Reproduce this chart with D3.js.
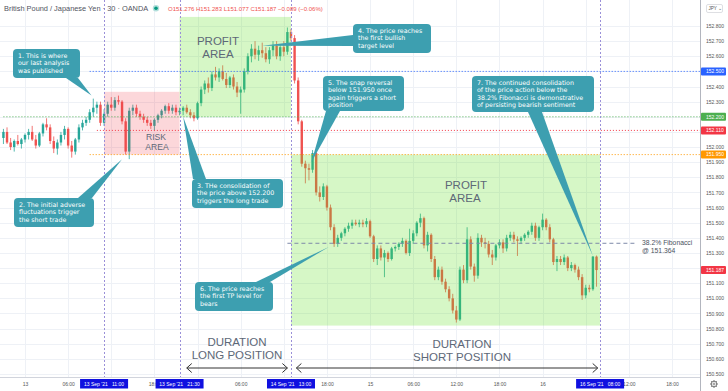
<!DOCTYPE html>
<html><head><meta charset="utf-8">
<script src="https://cdn.jsdelivr.net/npm/d3@7"></script>
<style>body{margin:0;background:#fff}svg{display:block;font-family:"Liberation Sans",Arial,sans-serif}</style>
</head><body><svg id="c" width="728" height="391"></svg>
<script>
// ---------- DATA (30-minute GBP/JPY candles, first bar 12 Sep 2021 21:00 UTC) ----------
const firstBar = Date.UTC(2021, 8, 12, 21, 0);
const barMinutes = 30;
const opens = [
152.06,152.10,152.03,152.00,152.04,152.02,152.05,152.08,152.10,152.05,152.01,152.09,152.15,152.13,152.04,151.99,152.03,152.08,152.12,152.01,151.97,152.05,152.13,152.16,152.18,152.23,152.26,
152.28,152.16,152.22,152.28,152.26,152.31,152.30,152.17,151.97,152.24,152.26,152.22,152.20,152.18,152.16,152.14,152.18,152.21,152.24,152.27,152.24,152.26,152.23,
152.24,152.26,152.23,152.21,152.19,152.29,152.38,152.42,152.39,152.48,152.46,152.50,152.45,152.41,152.46,152.40,152.36,152.38,152.50,152.60,152.65,152.61,152.64,152.62,152.58,152.64,152.67,152.60,152.66,152.63,152.76,
152.72,152.44,152.17,151.89,151.86,151.85,151.96,151.70,151.67,151.74,151.60,151.47,151.36,151.40,151.43,151.46,151.48,151.50,151.49,151.50,151.49,151.51,151.41,151.26,151.33,151.27,151.30,
151.26,151.33,151.34,151.36,151.38,151.30,151.38,151.43,151.50,151.53,151.35,151.42,151.26,151.14,151.19,151.11,151.06,151.00,150.92,150.86,151.19,151.12,151.39,151.21,151.15,151.40,151.37,151.36,151.29,
151.27,151.35,151.37,151.33,151.40,151.42,151.39,151.38,151.40,151.42,151.44,151.48,151.40,151.47,151.52,151.47,151.39,151.24,151.26,151.24,151.27,151.20,151.22,151.19,151.14,151.02,151.07,151.06,151.276];
const highs = [
152.12,152.13,152.06,152.05,152.08,152.06,152.09,152.12,152.14,152.08,152.10,152.16,152.19,152.15,152.07,152.05,152.10,152.14,152.13,152.04,152.06,152.15,152.18,152.20,152.25,152.32,152.30,
152.30,152.25,152.30,152.33,152.33,152.34,152.31,152.19,152.26,152.28,152.28,152.24,152.22,152.20,152.18,152.19,152.22,152.25,152.28,152.29,152.28,152.28,152.26,
152.27,152.28,152.25,152.23,152.30,152.40,152.44,152.46,152.50,152.53,152.52,152.54,152.49,152.47,152.48,152.43,152.40,152.52,152.62,152.68,152.70,152.67,152.69,152.66,152.66,152.70,152.70,152.68,152.70,152.79,152.78,
152.74,152.46,152.18,151.91,151.89,151.98,151.97,151.74,151.76,151.75,151.62,151.49,151.42,151.44,151.47,151.50,151.52,151.52,151.52,151.52,151.53,151.52,151.42,151.35,151.35,151.32,151.31,
151.34,151.35,151.37,151.40,151.39,151.46,151.45,151.51,151.56,151.54,151.44,151.43,151.28,151.21,151.21,151.13,151.08,151.03,150.95,151.21,151.22,151.47,151.41,151.23,151.43,151.42,151.40,151.38,151.32,
151.36,151.39,151.39,151.42,151.44,151.44,151.41,151.41,151.43,151.45,151.50,151.50,151.48,151.56,151.53,151.49,151.40,151.28,151.28,151.29,151.28,151.24,151.23,151.21,151.16,151.09,151.09,151.28,151.283];
const lows = [
152.02,152.02,151.98,151.97,152.01,151.99,152.03,152.05,152.04,151.99,152.00,152.07,152.11,152.02,151.96,151.95,152.01,152.05,151.99,151.93,151.95,152.03,152.11,152.14,152.16,152.20,152.22,
152.14,152.14,152.20,152.24,152.24,152.28,152.15,151.95,151.92,152.21,152.20,152.18,152.16,152.14,152.12,152.11,152.16,152.19,152.22,152.22,152.22,152.21,152.21,
152.21,152.22,152.19,152.17,152.18,152.27,152.35,152.36,152.37,152.44,152.43,152.44,152.39,152.39,152.38,152.33,152.22,152.36,152.48,152.56,152.58,152.57,152.59,152.56,152.55,152.60,152.58,152.57,152.60,152.61,152.70,
152.42,152.15,151.87,151.76,151.78,151.83,151.68,151.64,151.65,151.58,151.45,151.34,151.34,151.38,151.41,151.44,151.46,151.48,151.47,151.47,151.47,151.40,151.24,151.22,151.25,151.14,151.24,
151.25,151.31,151.32,151.34,151.29,151.28,151.36,151.41,151.47,151.33,151.31,151.24,151.12,151.12,151.09,151.04,150.98,150.90,150.84,150.85,151.10,151.10,151.19,151.11,151.13,151.34,151.33,151.27,151.22,
151.25,151.33,151.30,151.31,151.38,151.37,151.28,151.36,151.38,151.40,151.42,151.38,151.38,151.45,151.45,151.37,151.22,151.18,151.22,151.22,151.18,151.18,151.17,151.12,150.99,151.00,151.04,151.05,151.077];
const closes = [
152.10,152.03,152.00,152.04,152.02,152.05,152.08,152.10,152.05,152.01,152.09,152.15,152.13,152.04,151.99,152.03,152.08,152.12,152.01,151.97,152.05,152.13,152.16,152.18,152.23,152.26,152.28,
152.16,152.22,152.28,152.26,152.31,152.30,152.17,151.97,152.24,152.26,152.22,152.20,152.18,152.16,152.14,152.18,152.21,152.24,152.27,152.24,152.26,152.23,152.24,
152.26,152.23,152.21,152.19,152.29,152.38,152.42,152.39,152.48,152.46,152.50,152.45,152.41,152.46,152.40,152.36,152.38,152.50,152.60,152.65,152.61,152.64,152.62,152.58,152.64,152.67,152.60,152.66,152.63,152.76,152.72,
152.44,152.17,151.89,151.86,151.85,151.96,151.70,151.67,151.74,151.60,151.47,151.36,151.40,151.43,151.46,151.48,151.50,151.49,151.50,151.49,151.51,151.41,151.26,151.33,151.27,151.30,151.26,
151.33,151.34,151.36,151.38,151.30,151.38,151.43,151.50,151.53,151.35,151.42,151.26,151.14,151.19,151.11,151.06,151.00,150.92,150.86,151.19,151.12,151.39,151.21,151.15,151.40,151.37,151.36,151.29,151.27,
151.35,151.37,151.33,151.40,151.42,151.39,151.38,151.40,151.42,151.44,151.48,151.40,151.47,151.52,151.47,151.39,151.24,151.26,151.24,151.27,151.20,151.22,151.19,151.14,151.02,151.07,151.06,151.276,151.187];

const priceTicks = [150.5,150.6,150.7,150.8,150.9,151.0,151.1,151.2,151.3,151.4,151.5,151.6,151.7,151.8,151.9,152.0,152.1,152.2,152.3,152.4,152.5,152.6,152.7,152.8];
const timeTicks = ["2021-09-13T00:00Z","2021-09-13T06:00Z","2021-09-13T12:00Z","2021-09-13T18:00Z","2021-09-14T00:00Z","2021-09-14T06:00Z","2021-09-14T12:00Z","2021-09-14T18:00Z","2021-09-15T00:00Z","2021-09-15T06:00Z","2021-09-15T12:00Z","2021-09-15T18:00Z","2021-09-16T00:00Z","2021-09-16T06:00Z","2021-09-16T12:00Z","2021-09-16T18:00Z"];
const timeTickLabels = ["13","06:00","12:00","18:00","14","06:00","12:00","18:00","15","06:00","12:00","18:00","16","06:00","12:00","18:00"];

const eventTimes = ["2021-09-13T11:00Z","2021-09-13T21:30Z","2021-09-14T13:00Z","2021-09-16T08:00Z"];
const eventLabels = ["13 Sep '21   11:00","13 Sep '21   21:30","14 Sep '21   13:00","16 Sep '21   08:00"];

const levelPrices = [152.5, 152.2, 152.11, 151.95];
const levelColors = ["#2962ff", "#4caf50", "#f23645", "#ff9800"];
const levelStarts = ["2021-09-13T09:00Z", "2021-09-12T21:00Z", "2021-09-13T10:00Z", "2021-09-13T09:00Z"];
const lastPrice = 151.187;
const fibPrice = 151.364;

const areas = [
  {t0:"2021-09-13T11:00Z", t1:"2021-09-13T21:30Z", p0:151.95, p1:152.365, fill:"rgb(242,54,69)", op:0.2},
  {t0:"2021-09-13T21:30Z", t1:"2021-09-14T13:00Z", p0:152.20, p1:152.86, fill:"rgb(96,224,36)", op:0.26},
  {t0:"2021-09-14T13:00Z", t1:"2021-09-16T08:00Z", p0:150.82, p1:151.95, fill:"rgb(96,224,36)", op:0.26}
];

const callouts = [
 {lines:["1. This is where","our last analysis","was published"], box:[13,49,67,29], base:[[66,78],[78,78]], tip:["2021-09-13T09:15Z",152.34]},
 {lines:["2. The initial adverse","fluctuations trigger","the short trade"], box:[14,198,80,29], base:[[78,198],[92,198]], tip:["2021-09-13T13:30Z",151.92]},
 {lines:["3. THe consolidation of","the price above 152.200","triggers the long trade"], box:[192,179,91,29], base:[[193,179],[206,179]], tip:["2021-09-13T22:00Z",152.20]},
 {lines:["4. The price reaches","the first bullish","target level"], box:[353,24,78,29], base:[[353,35],[353,46]], tip:["2021-09-14T09:00Z",152.67]},
 {lines:["5. The snap reversal","below 151.950 once","again triggers a short","position"], box:[323,76,81,35], base:[[326,111],[340,111]], tip:["2021-09-14T15:50Z",151.90]},
 {lines:["6. The price reaches","the first TP level for","bears"], box:[195,282,78,29], base:[[256,282],[270,282]], tip:["2021-09-14T18:15Z",151.34]},
 {lines:["7. The continued consolidation","of the price action below the","38.2% Fibonacci is demonstrative","of persisting bearish sentiment"], box:[472,76,122,36], base:[[528,112],[542,112]], tip:["2021-09-16T07:00Z",151.28]}
];

// ---------- CHART ----------
const svg = d3.select("#c");
const plotR = 700, plotB = 377;
const x = d3.scaleUtc().domain([new Date("2021-09-13T00:00Z"), new Date("2021-09-16T18:00Z")]).range([25, 672]);
const y = d3.scaleLinear().domain([150.5, 152.8]).range([374, 26]);
const T = s => new Date(s);

svg.append("rect").attr("width",728).attr("height",391).attr("fill","#fff");
svg.append("defs").append("clipPath").attr("id","plot").append("rect").attr("width",plotR).attr("height",plotB);
const plot = svg.append("g").attr("clip-path","url(#plot)");

// grid
plot.append("g").selectAll("line").data(priceTicks).join("line")
  .attr("x1",0).attr("x2",plotR).attr("y1",d=>Math.round(y(d))+0.5).attr("y2",d=>Math.round(y(d))+0.5)
  .attr("stroke","#eef1f6");
plot.append("g").selectAll("line").data(timeTicks).join("line")
  .attr("y1",0).attr("y2",plotB).attr("x1",d=>Math.round(x(T(d)))+0.5).attr("x2",d=>Math.round(x(T(d)))+0.5)
  .attr("stroke","#eef1f6");

// candles
const bars = d3.range(opens.length).map(i => ({t:new Date(firstBar + i*barMinutes*60000), o:opens[i], h:highs[i], l:lows[i], c:closes[i]}));
const bw = 2.4;
const cg = plot.append("g");
cg.selectAll("line").data(bars).join("line")
  .attr("x1",d=>x(d.t)).attr("x2",d=>x(d.t)).attr("y1",d=>y(d.h)).attr("y2",d=>y(d.l))
  .attr("stroke",d=>d.c>=d.o?"#26a69a":"#ef5350").attr("stroke-width",0.8);
cg.selectAll("rect").data(bars).join("rect")
  .attr("x",d=>x(d.t)-bw/2).attr("width",bw)
  .attr("y",d=>y(Math.max(d.o,d.c))).attr("height",d=>Math.max(0.8, Math.abs(y(d.o)-y(d.c))))
  .attr("fill",d=>d.c>=d.o?"#26a69a":"#ef5350");

// areas (overlay)
plot.append("g").selectAll("rect").data(areas).join("rect")
  .attr("x",d=>x(T(d.t0))).attr("width",d=>x(T(d.t1))-x(T(d.t0)))
  .attr("y",d=>y(d.p1)).attr("height",d=>y(d.p0)-y(d.p1))
  .attr("fill",d=>d.fill).attr("fill-opacity",d=>d.op);

// level lines
levelPrices.forEach((p,i)=>{
  plot.append("line").attr("x1",x(T(levelStarts[i]))).attr("x2",plotR)
    .attr("y1",y(p)).attr("y2",y(p)).attr("stroke",levelColors[i]).attr("stroke-width",1)
    .attr("stroke-dasharray","1,2");
});
// fib line
plot.append("line").attr("x1",x(T("2021-09-14T12:30Z"))).attr("x2",637)
  .attr("y1",y(fibPrice)).attr("y2",y(fibPrice)).attr("stroke","#7e89a8").attr("stroke-dasharray","4,3");
svg.append("text").attr("x",642).attr("y",y(fibPrice)+2).attr("font-size",6.8).attr("fill","#4a5160").text("38.2% Fibonacci");
svg.append("text").attr("x",642).attr("y",y(fibPrice)+10).attr("font-size",6.8).attr("fill","#4a5160").text("@ 151.364");

// event vertical lines
plot.append("g").selectAll("line").data(eventTimes).join("line")
  .attr("x1",d=>Math.round(x(T(d)))+0.5).attr("x2",d=>Math.round(x(T(d)))+0.5).attr("y1",0).attr("y2",plotB)
  .attr("stroke","#9a90d8").attr("stroke-dasharray","2,2");

// area labels
const lbl = (txt, cx, by, fs, col) => svg.append("text").attr("x",cx).attr("y",by).attr("text-anchor","middle")
  .attr("font-size",fs).attr("fill",col).text(txt);
const areaTextCol = "#5d6877";
lbl("RISK",156,140,8.6,areaTextCol); lbl("AREA",157,149.7,8.6,areaTextCol);
lbl("PROFIT",218,44.5,11.5,areaTextCol); lbl("AREA",218,57.5,11.5,areaTextCol);
lbl("PROFIT",466,188.5,11.5,areaTextCol); lbl("AREA",465,202,11.5,areaTextCol);
lbl("DURATION",237,346,11.5,areaTextCol); lbl("LONG POSITION",237,359.2,11.5,areaTextCol);
lbl("DURATION",462,347.6,11.5,areaTextCol); lbl("SHORT POSITION",462,360.8,11.5,areaTextCol);

// duration arrows
const arrows = [["2021-09-13T22:30Z","2021-09-14T12:30Z"],["2021-09-14T13:45Z","2021-09-16T07:40Z"]];
arrows.forEach(a=>{
  const x0=x(T(a[0])), x1=x(T(a[1])), yy=368;
  svg.append("line").attr("x1",x0).attr("x2",x1).attr("y1",yy).attr("y2",yy).attr("stroke","#333").attr("stroke-width",1);
  svg.append("path").attr("d",`M${x0+5},${yy-4.5}L${x0},${yy}L${x0+5},${yy+4.5}`).attr("fill","none").attr("stroke","#333");
  svg.append("path").attr("d",`M${x1-5},${yy-4.5}L${x1},${yy}L${x1-5},${yy+4.5}`).attr("fill","none").attr("stroke","#333");
});

// callouts
const calCol = "#3d9fb0";
callouts.forEach(c=>{
  const [bx,by,bw2,bh]=c.box;
  const tx=x(T(c.tip[0])), ty=y(c.tip[1]);
  svg.append("path").attr("d",`M${c.base[0][0]},${c.base[0][1]}L${tx},${ty}L${c.base[1][0]},${c.base[1][1]}Z`).attr("fill",calCol);
  svg.append("rect").attr("x",bx).attr("y",by).attr("width",bw2).attr("height",bh).attr("rx",4).attr("fill",calCol);
  const t=svg.append("text").attr("font-size",6.3).attr("font-family","DejaVu Sans").attr("fill","#fff");
  c.lines.forEach((l,i)=>t.append("tspan").attr("x",bx+5).attr("y",by+9+i*7.4).text(l));
});

// price axis
svg.append("line").attr("x1",plotR+0.5).attr("x2",plotR+0.5).attr("y1",0).attr("y2",391).attr("stroke","#b2b5be");
svg.append("line").attr("x1",0).attr("x2",plotR).attr("y1",plotB+0.5).attr("y2",plotB+0.5).attr("stroke","#d1d4dc");
const tagPrices = [...levelPrices, lastPrice];
const tagColors = [...levelColors, "#f23645"];
const tagH = 8;
// tick labels hidden where a price tag covers them
const coveredByTag = p => tagPrices.some(tp => Math.abs(y(tp) - y(p)) < 6);
const ya = svg.append("g").attr("transform",`translate(${plotR},0)`)
  .call(d3.axisRight(y).tickValues(priceTicks).tickFormat(p => coveredByTag(p) ? "" : d3.format(".3f")(p)).tickSize(0).tickPadding(6));
ya.select(".domain").remove();
ya.selectAll("text").attr("font-size",5).attr("fill","#555").attr("font-family","Liberation Sans");

tagPrices.forEach((p,i)=>{
  svg.append("rect").attr("x",701).attr("y",y(p)-tagH/2).attr("width",25).attr("height",tagH).attr("rx",1).attr("fill",tagColors[i]);
  svg.append("text").attr("x",706).attr("y",y(p)+1.8).attr("font-size",5).attr("fill","#fff").text(d3.format(".3f")(p));
});

// time axis (labels under the date badges are hidden like in the reference)
const coveredByBadge = d => eventTimes.some(e => Math.abs(x(T(e)) - x(d)) < 20);
const xa = svg.append("g").attr("transform",`translate(0,${plotB})`)
  .call(d3.axisBottom(x).tickValues(timeTicks.map(T)).tickFormat((d,i)=>coveredByBadge(d) ? "" : timeTickLabels[i]).tickSize(0).tickPadding(5));
xa.select(".domain").remove();
xa.selectAll("text").attr("font-size",5).attr("fill","#555").attr("font-family","Liberation Sans");
eventTimes.forEach((e,i)=>{
  const cx=x(T(e));
  svg.append("rect").attr("x",cx-24).attr("y",379).attr("width",48).attr("height",9.5).attr("fill","#1010e0");
  svg.append("text").attr("x",cx).attr("y",385.8).attr("text-anchor","middle").attr("font-size",5).attr("fill","#fff").attr("xml:space","preserve").text(eventLabels[i]);
});

// header
svg.append("text").attr("x",4).attr("y",10.5).attr("font-size",7.4).attr("fill","#50535e").text("British Pound / Japanese Yen · 30 · OANDA");
svg.append("circle").attr("cx",156).attr("cy",8.3).attr("r",3.2).attr("fill","#b2dfdb");
svg.append("circle").attr("cx",156).attr("cy",8.3).attr("r",1.8).attr("fill","#089981");
svg.append("text").attr("x",168).attr("y",10.5).attr("font-size",6).attr("fill","#ef5350")
  .text("O151.276 H151.283 L151.077 C151.187 −0.089 (−0.06%)");

// JPY box
svg.append("rect").attr("x",706.5).attr("y",4.5).attr("width",16).attr("height",8).attr("rx",1.5).attr("fill","#fff").attr("stroke","#c8cad0").attr("stroke-width",0.6);
svg.append("text").attr("x",708.5).attr("y",10.3).attr("font-size",4.6).attr("fill","#555").text("JPY ⌄");

// gear icon
const gear = svg.append("g").attr("transform","translate(714,384)");
gear.append("circle").attr("r",2.8).attr("fill","none").attr("stroke","#555").attr("stroke-width",0.8);
gear.append("circle").attr("r",1).attr("fill","none").attr("stroke","#555").attr("stroke-width",0.6);
d3.range(8).forEach(k=>{const a=k*Math.PI/4;
  gear.append("line").attr("x1",2.8*Math.cos(a)).attr("y1",2.8*Math.sin(a)).attr("x2",3.8*Math.cos(a)).attr("y2",3.8*Math.sin(a)).attr("stroke","#555").attr("stroke-width",0.9);});
</script></body></html>
